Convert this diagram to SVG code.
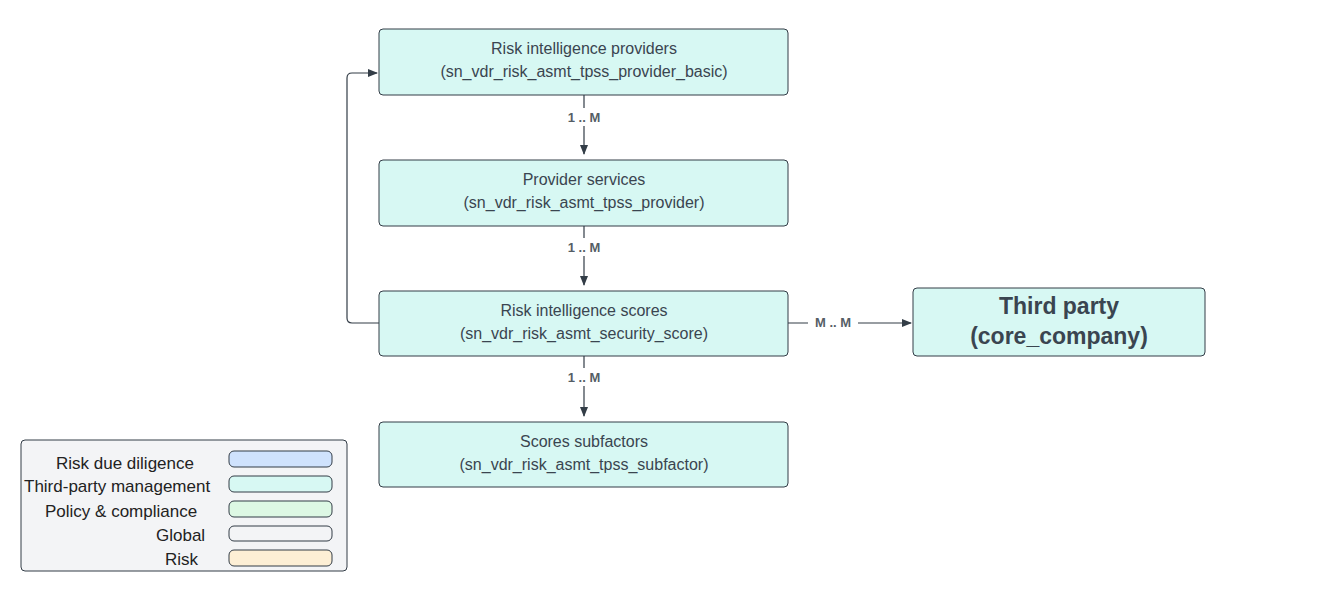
<svg xmlns="http://www.w3.org/2000/svg" width="1324" height="594" viewBox="0 0 1324 594">
<defs>
<marker id="ah" markerWidth="10" markerHeight="10" refX="9" refY="5" orient="auto" markerUnits="userSpaceOnUse"><path d="M0,1 L10,5 L0,9 Z" fill="#333d47"/></marker>
<style>
.n{fill:#d7f8f3;stroke:#333d47;stroke-width:1}
.t{font-family:"Liberation Sans",Arial,sans-serif;font-size:16px;fill:#3a4550;text-anchor:middle}
.c{fill:none;stroke:#333d47;stroke-width:1.2}
.l{font-family:"Liberation Sans",Arial,sans-serif;font-size:13px;font-weight:bold;fill:#555e66;text-anchor:middle}
.lg{font-family:"Liberation Sans",Arial,sans-serif;font-size:17px;fill:#222}
.sw{stroke:#333d47;stroke-width:1}
</style>
</defs>
<rect width="1324" height="594" fill="#fff"/>
<g id="connectors">
<path class="c" d="M584,95 V108 M584,126 V154" marker-end="url(#ah)"/>
<text class="l" x="584" y="122">1 .. M</text>
<path class="c" d="M584,226 V238 M584,256 V285" marker-end="url(#ah)"/>
<text class="l" x="584" y="252">1 .. M</text>
<path class="c" d="M584,356 V368 M584,386 V416" marker-end="url(#ah)"/>
<text class="l" x="584" y="382">1 .. M</text>
<path class="c" d="M788,323 H808 M858,323 H911" marker-end="url(#ah)"/>
<text class="l" x="833" y="327">M .. M</text>
<path class="c" d="M379,323 H352 Q347,323 347,318 V78 Q347,73 352,73 H377" marker-end="url(#ah)"/>
</g>
<g id="n1"><rect class="n" x="379" y="29" width="409" height="66" rx="4"/>
<text class="t" x="584" y="54">Risk intelligence providers</text><text class="t" x="584" y="77">(sn_vdr_risk_asmt_tpss_provider_basic)</text></g>
<g id="n2"><rect class="n" x="379" y="160" width="409" height="66" rx="4"/>
<text class="t" x="584" y="185">Provider  services</text><text class="t" x="584" y="208">(sn_vdr_risk_asmt_tpss_provider)</text></g>
<g id="n3"><rect class="n" x="379" y="291" width="409" height="65" rx="4"/>
<text class="t" x="584" y="316">Risk intelligence scores</text><text class="t" x="584" y="339">(sn_vdr_risk_asmt_security_score)</text></g>
<g id="n4"><rect class="n" x="379" y="422" width="409" height="65" rx="4"/>
<text class="t" x="584" y="447">Scores subfactors</text><text class="t" x="584" y="470">(sn_vdr_risk_asmt_tpss_subfactor)</text></g>
<g id="n5"><rect class="n" x="913" y="288" width="292" height="68" rx="4"/>
<text class="t" x="1059" y="314" style="font-size:23px;font-weight:bold">Third party</text><text class="t" x="1059" y="344" style="font-size:23px;font-weight:bold">(core_company)</text></g>
<g id="legend">
<rect x="21" y="440" width="326" height="131" rx="4" fill="#f3f4f6" stroke="#333d47"/>
<text class="lg" x="56" y="469">Risk due diligence</text>
<text class="lg" x="24" y="492">Third-party management</text>
<text class="lg" x="45" y="517">Policy &amp; compliance</text>
<text class="lg" x="156" y="541">Global</text>
<text class="lg" x="165" y="565">Risk</text>
<rect class="sw" x="229" y="451" width="103" height="16" rx="5" fill="#cfe2fd"/>
<rect class="sw" x="229" y="476" width="103" height="16" rx="5" fill="#d7f8f3"/>
<rect class="sw" x="229" y="501" width="103" height="16" rx="5" fill="#ddf8e4"/>
<rect class="sw" x="229" y="526" width="103" height="15" rx="5" fill="#f3f4f6"/>
<rect class="sw" x="229" y="550" width="103" height="16" rx="5" fill="#fdefd5"/>
</g>
</svg>
